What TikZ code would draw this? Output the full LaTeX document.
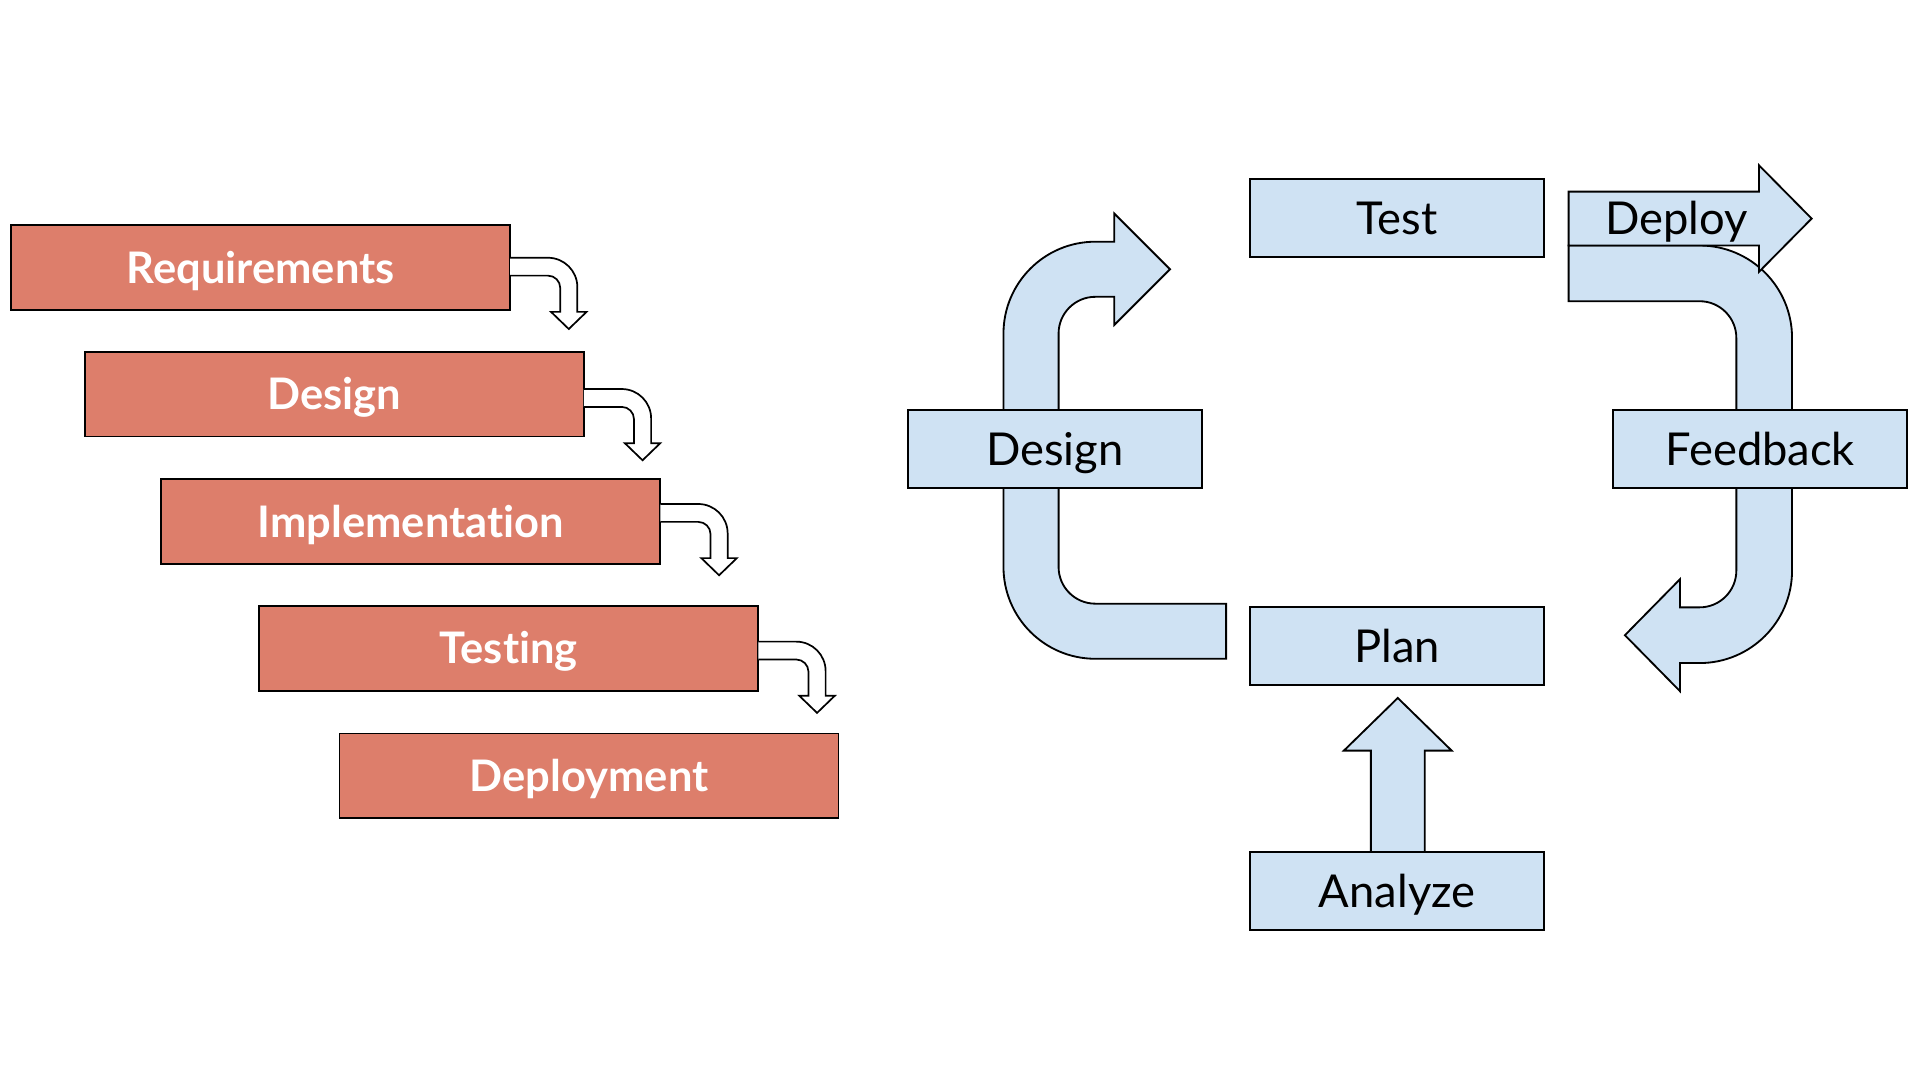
\documentclass[tikz,border=0pt]{standalone}
\usepackage{fontspec}
\setmainfont{Lato}[Ligatures=NoCommon]
\usetikzlibrary{calc}
\definecolor{salmon}{HTML}{DD7E6B}
\definecolor{skyb}{HTML}{CFE2F3}
\newcommand\wffont{\fontsize{35.5}{38}\selectfont\bfseries}
\newcommand\cycfont{\fontsize{37}{40}\selectfont}
\newcommand\wfarrow[2]{%
  \begin{scope}[shift={($(#1.north east)+(0,#2)$)}]
    \draw[wfarr] (0,0) -- (31,0)
      .. controls (44.25,0) and (55,10.75) .. (55,24)
      -- (55,44.2) -- (62.5,44.2) -- (48,58.2) -- (33.5,44.2) -- (41,44.2)
      -- (41,24.6) .. controls (41,19.08) and (36.52,14.6) .. (31,14.6)
      -- (0,14.6);
  \end{scope}}
\begin{document}
\begin{tikzpicture}[x=1pt,y=-1pt,
  wf/.style={draw=black, line width=1.5pt, fill=salmon, minimum width=407.5pt,
    minimum height=69pt, inner sep=0pt, outer sep=0pt, font=\wffont, text=white,
    text height=25.4pt, text depth=0pt},
  cyc/.style={draw=black, line width=1.5pt, fill=skyb, minimum width=240pt,
    minimum height=64pt, inner sep=0pt, outer sep=0pt, font=\cycfont, text=black,
    text height=26.5pt, text depth=0pt},
  blk/.style={draw=black, line width=1.5pt, fill=skyb, line join=miter},
  wfarr/.style={draw=black, line width=1.4pt, fill=white, line join=miter}]
\fill[white] (0,0) rectangle (1568,882);
\useasboundingbox (0,0) rectangle (1568,882);

% ---------- waterfall ----------
\node[wf] (req) at (212.75,218.5) {Requirements};
\node[wf] (des) at (273,322) {Design};
\node[wf] (imp) at (335.5,426) {Implementation};
\node[wf] (tst) at (415.5,529.5) {Testing};
\node[wf] (dep) at (481,633.5) {Deployment};
\wfarrow{req}{26.5}
\wfarrow{des}{30.2}
\wfarrow{imp}{20.1}
\wfarrow{tst}{29}

% ---------- cycle: block arrows ----------
% feedback loop (Deploy -> Feedback -> Plan)
\draw[blk] (1281,200.5) -- (1388,200.5)
  .. controls (1429.7,200.5) and (1463.5,234.3) .. (1463.5,276)
  -- (1463.5,466)
  .. controls (1463.5,507.7) and (1429.7,541.5) .. (1388,541.5)
  -- (1372,541.5) -- (1372,564.5) -- (1327,518.75) -- (1372,473) -- (1372,496)
  -- (1388,496)
  .. controls (1404.57,496) and (1418,482.57) .. (1418,466)
  -- (1418,276)
  .. controls (1418,259.43) and (1404.57,246) .. (1388,246)
  -- (1281,246) -- cycle;
% deploy arrow
\draw[blk] (1281,156.5) -- (1436.5,156.5) -- (1436.5,135) -- (1479.5,178.5)
  -- (1436.5,222) -- (1436.5,200.5) -- (1281,200.5) -- cycle;
\node[font=\cycfont, text height=26.5pt, text depth=0pt, inner sep=0pt] (deploy)
  at (1369,178.5) {Deploy};
% design loop (Plan -> Design -> Test)
\draw[blk] (1001.3,493) -- (894.5,493)
  .. controls (877.93,493) and (864.5,479.57) .. (864.5,463)
  -- (864.5,272.4)
  .. controls (864.5,255.83) and (877.93,242.4) .. (894.5,242.4)
  -- (910,242.4) -- (910,265.4) -- (955.5,219.9) -- (910,174.4) -- (910,197.4)
  -- (894.5,197.4)
  .. controls (853.08,197.4) and (819.5,230.98) .. (819.5,272.4)
  -- (819.5,463)
  .. controls (819.5,504.42) and (853.08,538) .. (894.5,538)
  -- (1001.3,538) -- cycle;
% analyze -> plan
\draw[blk] (1119.5,700) -- (1119.5,613) -- (1097.5,613) -- (1141.5,570)
  -- (1185.5,613) -- (1163.5,613) -- (1163.5,700);

% ---------- cycle: boxes ----------
\node[cyc] (test) at (1141,178) {Test};
\node[cyc] (design) at (861.5,366.5) {Design};
\node[cyc] (feedback) at (1437.5,366.5) {Feedback};
\node[cyc] (plan) at (1141,527.5) {Plan};
\node[cyc] (analyze) at (1141,727.5) {Analyze};
\end{tikzpicture}
\end{document}
